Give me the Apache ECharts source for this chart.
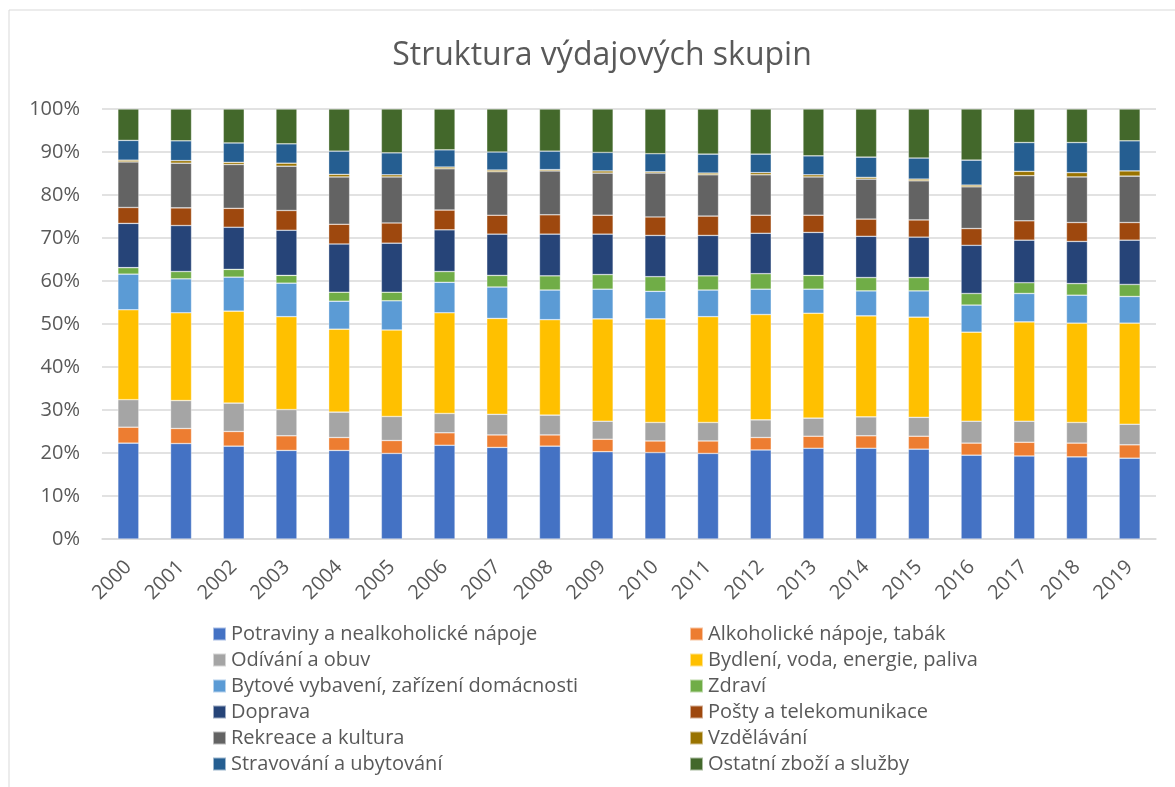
<!DOCTYPE html>
<html>
<head>
<meta charset="utf-8">
<script src="https://cdn.jsdelivr.net/npm/echarts@6/dist/echarts.min.js"></script>
<style>
html,body{margin:0;padding:0;background:#fff;}
#c{width:1175px;height:787px;}
</style>
</head>
<body>
<div id="c"></div>
<script>
const years = ['2000','2001','2002','2003','2004','2005','2006','2007','2008','2009','2010','2011','2012','2013','2014','2015','2016','2017','2018','2019'];
const yTicks = [0,10,20,30,40,50,60,70,80,90,100];

const potraviny = [22.3,22.2,21.6,20.6,20.6,19.9,21.8,21.3,21.6,20.3,20.1,19.9,20.7,21.1,21.1,20.9,19.5,19.3,19.1,18.8];
const alkohol   = [3.7,3.5,3.4,3.4,3.0,3.0,2.9,2.9,2.6,2.9,2.7,2.9,2.9,2.8,2.9,3.0,2.8,3.2,3.2,3.1];
const odivani   = [6.4,6.5,6.6,6.1,5.9,5.6,4.5,4.8,4.6,4.2,4.3,4.3,4.1,4.2,4.4,4.4,5.1,4.9,4.8,4.8];
const bydleni   = [20.9,20.4,21.4,21.6,19.3,20.1,23.4,22.3,22.2,23.8,24.1,24.6,24.5,24.4,23.5,23.3,20.7,23.1,23.1,23.5];
const bytove    = [8.3,7.9,7.9,7.8,6.5,6.8,7.1,7.3,6.9,6.9,6.4,6.2,5.9,5.6,5.8,6.1,6.3,6.6,6.5,6.2];
const zdravi    = [1.5,1.7,1.8,1.8,2.1,2.0,2.5,2.7,3.3,3.4,3.4,3.3,3.6,3.2,3.1,3.1,2.7,2.5,2.7,2.8];
const doprava   = [10.3,10.7,9.8,10.5,11.2,11.4,9.7,9.6,9.7,9.4,9.6,9.4,9.4,10.0,9.6,9.4,11.2,9.9,9.8,10.3];
const posty     = [3.7,4.1,4.4,4.6,4.6,4.7,4.6,4.4,4.5,4.4,4.3,4.5,4.2,4.0,4.0,4.0,3.9,4.5,4.4,4.1];
const rekreace  = [10.6,10.4,10.2,10.3,11.0,10.7,9.6,10.1,10.2,9.8,10.2,9.6,9.4,8.9,9.3,9.1,9.7,10.5,10.6,10.8];
const vzdelavani= [0.4,0.6,0.5,0.7,0.6,0.5,0.4,0.4,0.3,0.5,0.3,0.4,0.5,0.5,0.4,0.4,0.4,1.0,1.0,1.2];
const stravovani= [4.6,4.6,4.5,4.5,5.4,5.1,4.0,4.2,4.3,4.3,4.2,4.4,4.3,4.4,4.7,4.9,5.8,6.7,7.0,7.0];
const ostatni   = [7.3,7.4,7.9,8.1,9.8,10.2,9.5,10.0,9.8,10.1,10.4,10.5,10.5,10.9,11.2,11.4,11.9,7.8,7.8,7.4];

const seriesNames = [
  'Potraviny a nealkoholické nápoje','Alkoholické nápoje, tabák','Odívání a obuv',
  'Bydlení, voda, energie, paliva','Bytové vybavení, zařízení domácnosti','Zdraví',
  'Doprava','Pošty a telekomunikace','Rekreace a kultura','Vzdělávání',
  'Stravování a ubytování','Ostatní zboží a služby'
];
const seriesData = [potraviny,alkohol,odivani,bydleni,bytove,zdravi,doprava,posty,rekreace,vzdelavani,stravovani,ostatni];
const colors = ['#4472C4','#ED7D31','#A5A5A5','#FFC000','#5B9BD5','#70AD47','#264478','#9E480E','#636363','#997300','#255E91','#43682B'];

// 100% stacked: express each value as share of its year's total
const totals = years.map((_, i) => seriesData.reduce((s, arr) => s + arr[i], 0));

const FONT = '"Open Sans"';
const TXT = '#595959';

const series = seriesNames.map((name, k) => ({
  name: name,
  type: 'bar',
  stack: 'all',
  barWidth: 21,
  data: seriesData[k].map((v, i) => v / totals[i] * 100),
  itemStyle: { color: colors[k], borderColor: 'rgba(255,255,255,0.55)', borderWidth: 0.6 },
  emphasis: { disabled: true }
}));

const legendBase = {
  orient: 'vertical',
  top: 624,
  padding: 0,
  itemWidth: 13,
  itemHeight: 13,
  itemGap: 6,
  icon: 'rect',
  selectedMode: false,
  textStyle: { fontSize: 20, lineHeight: 20, color: TXT, fontFamily: FONT }
};

const chart = echarts.init(document.getElementById('c'), null, { renderer: 'canvas' });
chart.setOption({
  animation: false,
  color: colors,
  textStyle: { fontFamily: FONT },
  title: {
    text: 'Struktura výdajových skupin',
    left: 597,
    textAlign: 'center',
    top: 35,
    textStyle: { fontSize: 32, fontWeight: 'normal', color: TXT, fontFamily: FONT }
  },
  graphic: [{
    type: 'rect',
    shape: { x: 9, y: 10, width: 1200, height: 800 },
    style: { fill: 'none', stroke: '#D9D9D9', lineWidth: 1 },
    silent: true
  }],
  legend: [
    Object.assign({}, legendBase, { left: 212, data: seriesNames.filter((_, i) => i % 2 === 0) }),
    Object.assign({}, legendBase, { left: 689, data: seriesNames.filter((_, i) => i % 2 === 1) })
  ],
  grid: { left: 102, right: 19, top: 109, bottom: 248, containLabel: false },
  xAxis: {
    type: 'category',
    data: years,
    axisLine: { lineStyle: { color: '#D9D9D9', width: 1.5 } },
    axisTick: { show: false },
    axisLabel: { rotate: 45, fontSize: 20, color: TXT, fontFamily: FONT, margin: 25, interval: 0 }
  },
  yAxis: {
    type: 'value',
    min: yTicks[0],
    max: yTicks[yTicks.length - 1],
    interval: yTicks[1] - yTicks[0],
    axisLine: { show: false },
    axisTick: { show: false },
    splitLine: { lineStyle: { color: '#D9D9D9', width: 1.5 } },
    axisLabel: { formatter: '{value}%', fontSize: 20, color: TXT, fontFamily: FONT, margin: 22 }
  },
  series: series
});
</script>
</body>
</html>
